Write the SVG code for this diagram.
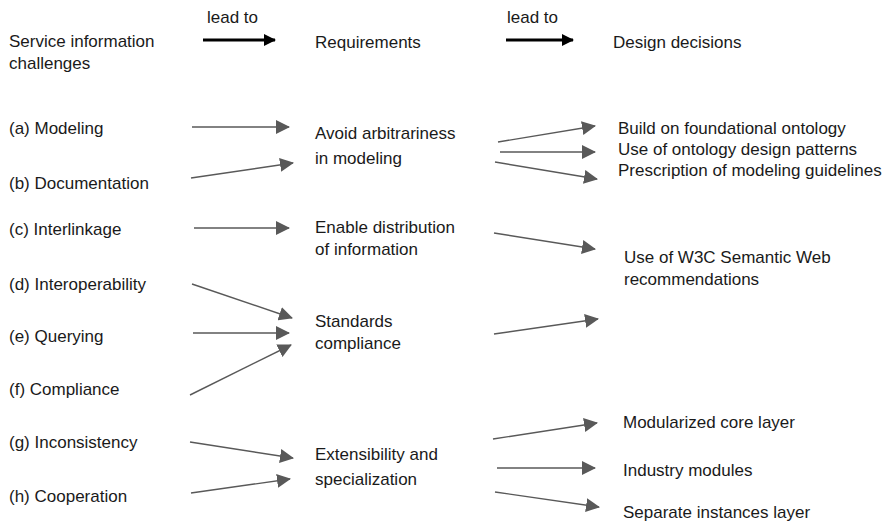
<svg xmlns="http://www.w3.org/2000/svg" width="891" height="522" viewBox="0 0 891 522">
<defs>
<style>
text{font-family:"Liberation Sans",Arial,sans-serif;font-size:17px;fill:#1a1a1a}
.c{stroke:#595959;stroke-width:1.4;fill:none;marker-end:url(#ah)}
.k{stroke:#000;stroke-width:3;fill:none;marker-end:url(#kh)}
</style>
<marker id="ah" markerUnits="userSpaceOnUse" markerWidth="14" markerHeight="14" refX="13" refY="7" orient="auto" viewBox="0 0 14 14"><path d="M0,0 L14,7 L0,14 z" fill="#595959"/></marker>
<marker id="kh" markerUnits="userSpaceOnUse" markerWidth="12" markerHeight="12" refX="11" refY="6" orient="auto" viewBox="0 0 12 12"><path d="M0,0 L12,6 L0,12 z" fill="#000"/></marker>
</defs>
<rect width="891" height="522" fill="#fff"/>
<g id="headers">
<text x="9" y="47">Service information</text>
<text x="9" y="69">challenges</text>
<text x="207" y="23">lead to</text>
<text x="315" y="48">Requirements</text>
<text x="507" y="23">lead to</text>
<text x="613" y="48">Design decisions</text>
</g>
<g id="challenges">
<g id="ch-a"><text x="9" y="134">(a) Modeling</text></g>
<g id="ch-b"><text x="9" y="189">(b) Documentation</text></g>
<g id="ch-c"><text x="9" y="235">(c) Interlinkage</text></g>
<g id="ch-d"><text x="9" y="290">(d) Interoperability</text></g>
<g id="ch-e"><text x="9" y="342">(e) Querying</text></g>
<g id="ch-f"><text x="9" y="395">(f) Compliance</text></g>
<g id="ch-g"><text x="9" y="448">(g) Inconsistency</text></g>
<g id="ch-h"><text x="9" y="502">(h) Cooperation</text></g>
</g>
<g id="requirements">
<g id="req-avoid"><text x="315" y="139">Avoid arbitrariness</text><text x="315" y="164">in modeling</text></g>
<g id="req-enable"><text x="315" y="233">Enable distribution</text><text x="315" y="255">of information</text></g>
<g id="req-standards"><text x="315" y="327">Standards</text><text x="315" y="349">compliance</text></g>
<g id="req-ext"><text x="315" y="460">Extensibility and</text><text x="315" y="485">specialization</text></g>
</g>
<g id="decisions">
<g id="dd-build"><text x="618" y="134">Build on foundational ontology</text></g>
<g id="dd-patterns"><text x="618" y="155">Use of ontology design patterns</text></g>
<g id="dd-guidelines"><text x="618" y="176">Prescription of modeling guidelines</text></g>
<g id="dd-w3c"><text x="624" y="263">Use of W3C Semantic Web</text><text x="624" y="285">recommendations</text></g>
<g id="dd-core"><text x="623" y="428">Modularized core layer</text></g>
<g id="dd-industry"><text x="623" y="476">Industry modules</text></g>
<g id="dd-instances"><text x="623" y="518">Separate instances layer</text></g>
</g>
<g id="connectors">
<line class="k" x1="203" y1="40" x2="275" y2="40"/>
<line class="k" x1="506" y1="40" x2="573" y2="40"/>
<line class="c" x1="192" y1="127" x2="289" y2="127"/>
<line class="c" x1="191" y1="178" x2="293" y2="163"/>
<line class="c" x1="194" y1="228" x2="289" y2="228"/>
<line class="c" x1="192" y1="284" x2="292" y2="318"/>
<line class="c" x1="193" y1="333" x2="289" y2="333"/>
<line class="c" x1="190" y1="395" x2="291" y2="345"/>
<line class="c" x1="190" y1="442" x2="293" y2="458"/>
<line class="c" x1="191" y1="493" x2="290" y2="479"/>
<line class="c" x1="498" y1="142" x2="595" y2="126"/>
<line class="c" x1="500" y1="152" x2="595" y2="152"/>
<line class="c" x1="495" y1="162" x2="597" y2="179"/>
<line class="c" x1="494" y1="233" x2="595" y2="249"/>
<line class="c" x1="494" y1="334" x2="598" y2="319"/>
<line class="c" x1="493" y1="439" x2="597" y2="423"/>
<line class="c" x1="497" y1="468" x2="595" y2="468"/>
<line class="c" x1="495" y1="492" x2="599" y2="507"/>
</g>
</svg>
